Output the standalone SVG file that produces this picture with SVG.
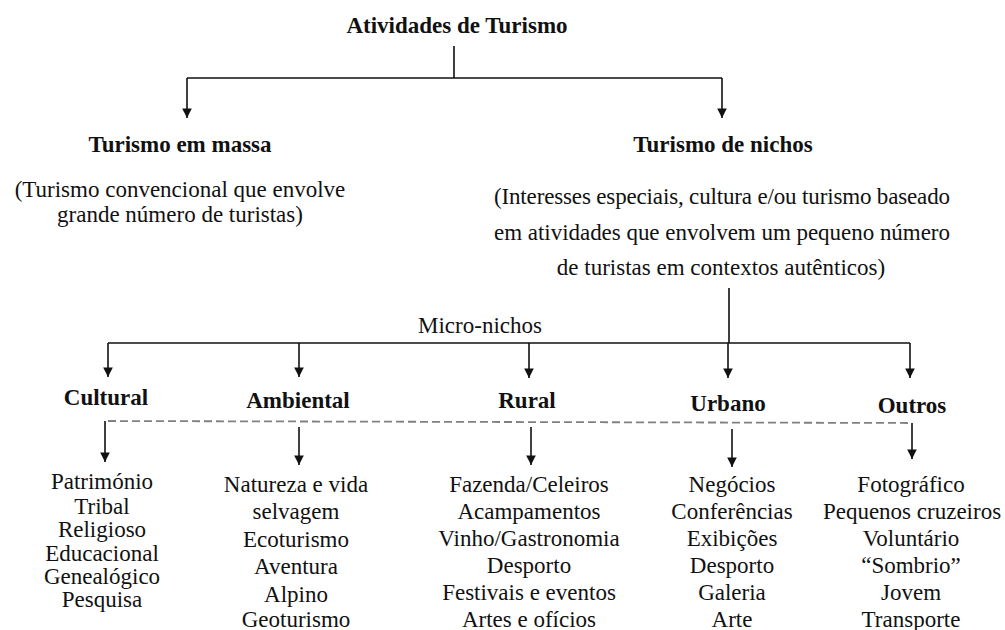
<svg xmlns="http://www.w3.org/2000/svg" width="1005" height="630" viewBox="0 0 1005 630">
<style>
text{font-family:'Liberation Serif','Tinos','Times New Roman',Times,'DejaVu Serif','Noto Serif',serif;font-size:23px;fill:#111;text-anchor:middle}
.b{font-weight:bold}
.l{text-anchor:start}
.ln{stroke:#111;stroke-width:1.6;fill:none}
.ar{stroke:#111;stroke-width:1.6;fill:none;marker-end:url(#ah)}
.ds{stroke:#808080;stroke-width:1.8;fill:none;stroke-dasharray:8 4}
</style>
<defs>
<marker id="ah" viewBox="0 0 10 10" refX="10" refY="5" markerWidth="6" markerHeight="6" markerUnits="strokeWidth" orient="auto">
<path d="M0,0 L10,5 L0,10 z" fill="#111"/>
</marker>
</defs>
<rect width="1005" height="630" fill="#fff"/>
<g id="connectors">
<path class="ln" d="M454,46 V78 M187,78 H722"/>
<path class="ar" d="M187,78 V118"/>
<path class="ar" d="M722,78 V118"/>
<path class="ln" d="M729,288 V343 M108,343 H910"/>
<path class="ar" d="M108,343 V377"/>
<path class="ar" d="M299,343 V377"/>
<path class="ar" d="M529,343 V378"/>
<path class="ar" d="M728,343 V378"/>
<path class="ar" d="M910,343 V378"/>
<path class="ds" d="M108,421 L912,423"/>
<path class="ar" d="M105,421 V462"/>
<path class="ar" d="M299,427 V465"/>
<path class="ar" d="M531,427 V465"/>
<path class="ar" d="M732,429 V467"/>
<path class="ar" d="M912,423 V459"/>
</g>
<g id="root"><text class="b" x="457" y="33" font-family="Liberation Serif, serif">Atividades de Turismo</text></g>
<g id="massa">
<text class="b" x="180" y="152">Turismo em massa</text>
<text x="180" y="197">(Turismo convencional que envolve</text>
<text x="180" y="222">grande número de turistas)</text>
</g>
<g id="nichos">
<text class="b" x="723" y="152">Turismo de nichos</text>
<text class="l" x="494" y="204" textLength="456" lengthAdjust="spacing">(Interesses especiais, cultura e/ou turismo baseado</text>
<text class="l" x="494" y="240" textLength="456" lengthAdjust="spacing">em atividades que envolvem um pequeno número</text>
<text x="721" y="275">de turistas em contextos autênticos)</text>
</g>
<g id="micro"><text x="480" y="333">Micro-nichos</text></g>
<g id="cultural">
<text class="b" x="106" y="405">Cultural</text>
<text x="102" y="489">Património</text>
<text x="102" y="514">Tribal</text>
<text x="102" y="537">Religioso</text>
<text x="102" y="561">Educacional</text>
<text x="102" y="584">Genealógico</text>
<text x="102" y="607">Pesquisa</text>
</g>
<g id="ambiental">
<text class="b" x="298" y="408">Ambiental</text>
<text x="296" y="492">Natureza e vida</text>
<text x="296" y="519">selvagem</text>
<text x="296" y="547">Ecoturismo</text>
<text x="296" y="574">Aventura</text>
<text x="296" y="602">Alpino</text>
<text x="296" y="627">Geoturismo</text>
</g>
<g id="rural">
<text class="b" x="527" y="408">Rural</text>
<text x="529" y="492">Fazenda/Celeiros</text>
<text x="529" y="519">Acampamentos</text>
<text x="529" y="546">Vinho/Gastronomia</text>
<text x="529" y="573">Desporto</text>
<text x="529" y="600">Festivais e eventos</text>
<text x="529" y="627">Artes e ofícios</text>
</g>
<g id="urbano">
<text class="b" x="728" y="411">Urbano</text>
<text x="732" y="492">Negócios</text>
<text x="732" y="519">Conferências</text>
<text x="732" y="546">Exibições</text>
<text x="732" y="573">Desporto</text>
<text x="732" y="600">Galeria</text>
<text x="732" y="627">Arte</text>
</g>
<g id="outros">
<text class="b" x="912" y="413">Outros</text>
<text x="911" y="492">Fotográfico</text>
<text x="912" y="519">Pequenos cruzeiros</text>
<text x="911" y="546">Voluntário</text>
<text x="911" y="573">“Sombrio”</text>
<text x="911" y="600">Jovem</text>
<text x="911" y="627">Transporte</text>
</g>
</svg>
